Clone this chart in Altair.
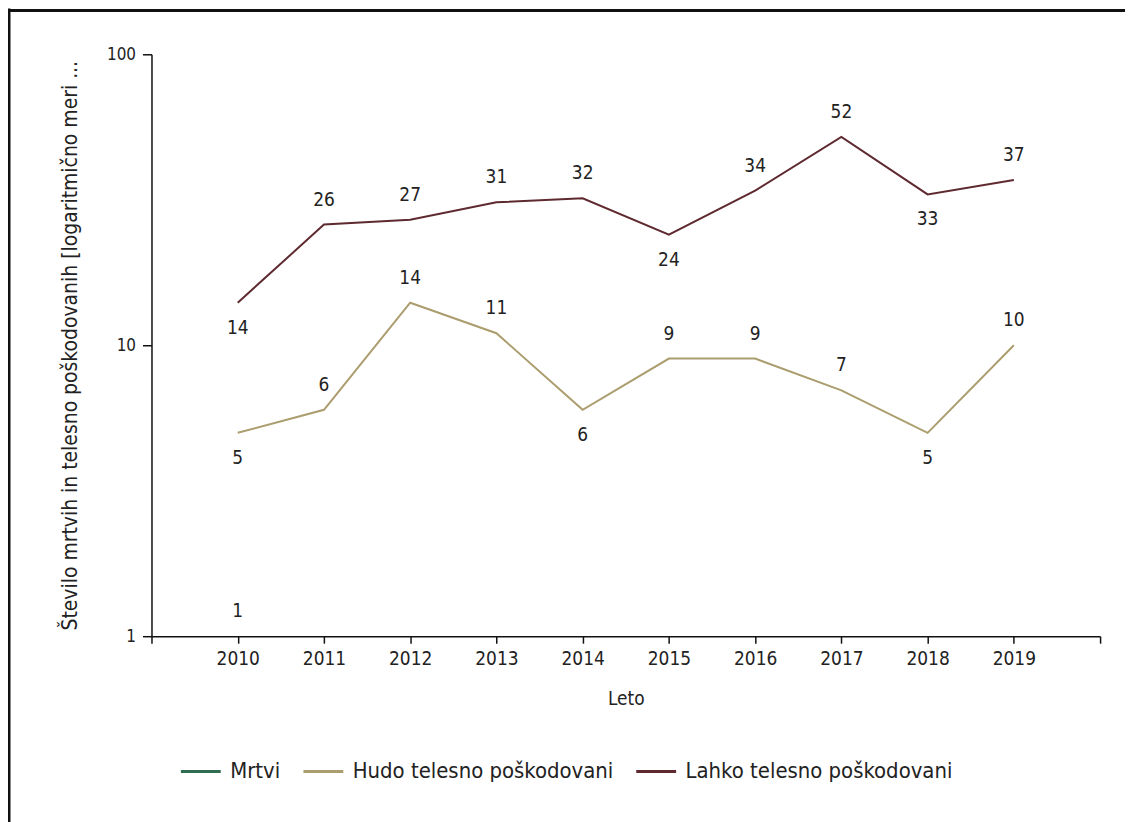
import altair as alt
import pandas as pd

years = [2010, 2011, 2012, 2013, 2014, 2015, 2016, 2017, 2018, 2019]
series_names = ["Mrtvi", "Hudo telesno poškodovani", "Lahko telesno poškodovani"]
mrtvi = [1, None, None, None, None, None, None, None, None, None]
hudo = [5, 6, 14, 11, 6, 9, 9, 7, 5, 10]
lahko = [14, 26, 27, 31, 32, 24, 34, 52, 33, 37]
colors = ["#2f6d50", "#ab9d6e", "#5e2a30"]
x_ticks = list(range(2009, 2021))
y_ticks = [1, 10, 100]
y_title = "Število mrtvih in telesno poškodovanih [logaritmično meri ..."
x_title = "Leto"

FONT = "DejaVu Sans Condensed, Liberation Sans, sans-serif"

rows = []
for name, vals in zip(series_names, [mrtvi, hudo, lahko]):
    pts = [(y, v) for y, v in zip(years, vals) if v is not None]
    for i, (yr, v) in enumerate(pts):
        nb = []
        if i > 0:
            nb.append(pts[i - 1][1])
        if i < len(pts) - 1:
            nb.append(pts[i + 1][1])
        below = len(nb) > 0 and all(v < n for n in nb)
        rows.append({"year": yr, "value": v, "series": name, "below": below})
df = pd.DataFrame(rows)

x_enc = alt.X(
    "year:Q",
    scale=alt.Scale(domain=[2009, 2020], nice=False, zero=False),
    axis=alt.Axis(
        values=x_ticks,
        format="d",
        labelExpr="(datum.value < 2010 || datum.value > 2019) ? '' : datum.label",
        title=x_title,
        grid=False,
        tickSize=7,
        labelPadding=6,
        labelFontSize=19,
        titleFontSize=19,
        titlePadding=22,
        titleFontWeight="normal",
        domainWidth=1.5,
        tickWidth=1.5,
    ),
)
y_enc = alt.Y(
    "value:Q",
    scale=alt.Scale(type="log", domain=[1, 100], nice=False),
    axis=alt.Axis(
        values=y_ticks,
        format="d",
        title=y_title,
        grid=False,
        tickSize=9,
        labelPadding=7,
        labelFontSize=17,
        titleFontSize=21,
        titlePadding=26,
        titleFontWeight="normal",
        titleLimit=2000,
        domainWidth=1.5,
        tickWidth=1.5,
    ),
)

base = alt.Chart(df)

lines = base.mark_line(strokeWidth=2).encode(
    x=x_enc,
    y=y_enc,
    color=alt.Color(
        "series:N",
        scale=alt.Scale(domain=series_names, range=colors),
        sort=series_names,
        legend=alt.Legend(
            orient="none",
            legendX=28,
            legendY=698,
            direction="horizontal",
            columns=3,
            title=None,
            symbolType="stroke",
            symbolSize=1600,
            symbolStrokeWidth=3,
            labelFontSize=22,
            labelOffset=8,
            columnPadding=16,
            padding=0,
            labelLimit=400,
        ),
    ),
    detail="series:N",
)

labels_above = base.transform_filter("!datum.below").mark_text(
    dy=-25, fontSize=19, color="#222222", font=FONT
).encode(x="year:Q", y="value:Q", text="value:Q")

labels_below = base.transform_filter("datum.below").mark_text(
    dy=25, fontSize=19, color="#222222", font=FONT
).encode(x="year:Q", y="value:Q", text="value:Q")

frame_df = pd.DataFrame({"k": [0]})
frame_top = alt.Chart(frame_df).mark_rule(color="#111111", strokeWidth=3).encode(
    x=alt.value(-144), x2=alt.value(1000), y=alt.value(-44)
)
frame_left = alt.Chart(frame_df).mark_rule(color="#111111", strokeWidth=3).encode(
    x=alt.value(-143), y=alt.value(-46), y2=alt.value(900)
)

chart = (
    alt.layer(lines, labels_above, labels_below, frame_top, frame_left)
    .properties(
        width=952,
        height=584,
        autosize=alt.AutoSizeParams(type="none"),
        padding={"left": 144, "top": 45, "right": 25, "bottom": 185},
    )
    .configure(font=FONT)
    .configure_view(stroke=None)
    .configure_axis(
        labelColor="#222222",
        titleColor="#222222",
        domainColor="#111111",
        tickColor="#111111",
        labelFont=FONT,
        titleFont=FONT,
    )
    .configure_legend(labelColor="#222222", labelFont=FONT)
)

chart.save("out.html", embed_options={"renderer": "svg", "actions": False})
